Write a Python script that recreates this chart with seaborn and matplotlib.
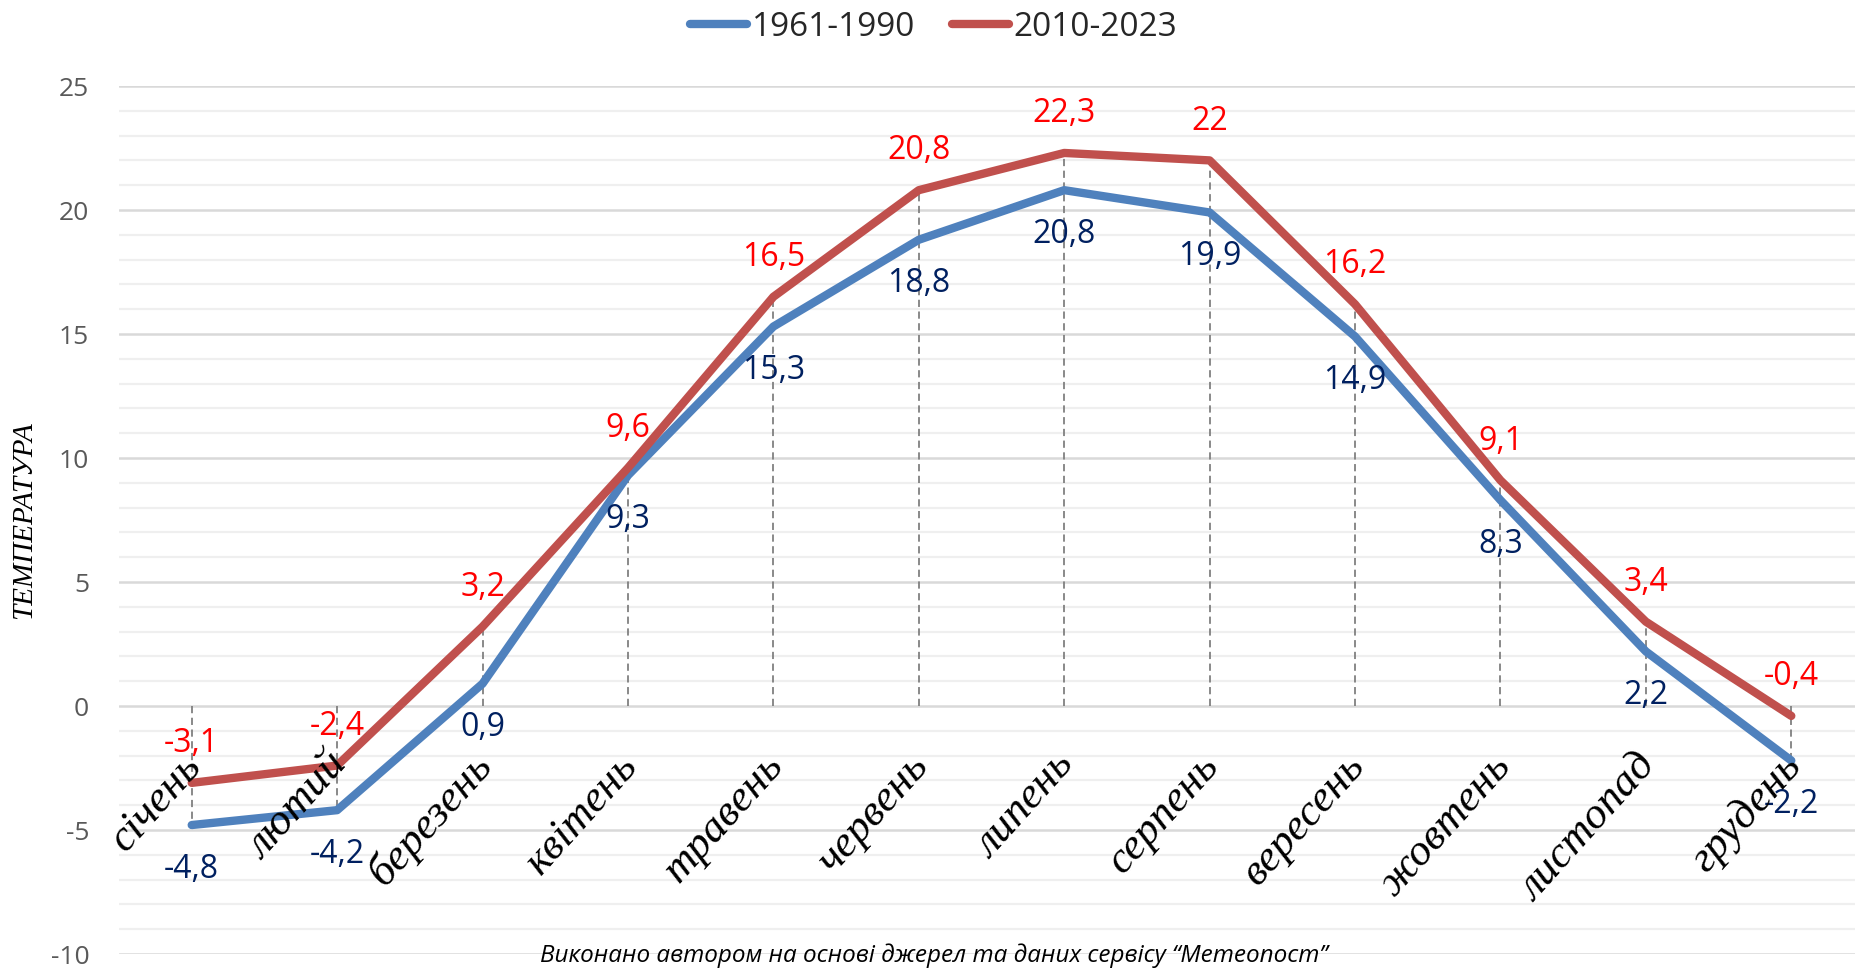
import numpy as np
import pandas as pd
import matplotlib
matplotlib.use("Agg")
import matplotlib.pyplot as plt
import seaborn as sns
from matplotlib.lines import Line2D

months = ["січень", "лютий", "березень", "квітень", "травень", "червень",
          "липень", "серпень", "вересень", "жовтень", "листопад", "грудень"]
series_names = ["1961-1990", "2010-2023"]
temps_1961_1990 = [-4.8, -4.2, 0.9, 9.3, 15.3, 18.8, 20.8, 19.9, 14.9, 8.3, 2.2, -2.2]
temps_2010_2023 = [-3.1, -2.4, 3.2, 9.6, 16.5, 20.8, 22.3, 22.0, 16.2, 9.1, 3.4, -0.4]
y_ticks = [-10, -5, 0, 5, 10, 15, 20, 25]
y_label = "ТЕМПЕРАТУРА"
caption = "Виконано автором на основі джерел та даних сервісу \u201cМетеопост\u201d"

line_colors = {"1961-1990": "#4F81BD", "2010-2023": "#C0504D"}
label_colors = {"1961-1990": "#002060", "2010-2023": "#FF0000"}

sns.set_theme(style="white")
plt.rcParams["font.family"] = ["Open Sans", "DejaVu Sans"]

idx = np.arange(len(months))
df = pd.DataFrame({
    "idx": np.concatenate([idx, idx]),
    "temp": temps_1961_1990 + temps_2010_2023,
    "period": [series_names[0]] * len(months) + [series_names[1]] * len(months),
})

W, H = 1855, 970
fig = plt.figure(figsize=(W / 100, H / 100), dpi=100)
left_px, right_px, top_px, bottom_px = 119, 1864, 87, 955
ax = fig.add_axes([left_px / W, (H - bottom_px) / H,
                   (right_px - left_px) / W, (bottom_px - top_px) / H])

# grid
ax.set_ylim(-10, 25)
ax.set_xlim(-0.5, len(months) - 0.5)
ax.set_yticks(y_ticks)
ax.set_yticks(np.arange(-10, 26, 1), minor=True)
ax.grid(which="minor", axis="y", color="#efefef", lw=1.6, zorder=0)
ax.grid(which="major", axis="y", color="#d9d9d9", lw=1.8, zorder=0)
ax.grid(False, axis="x")
ax.set_axisbelow(True)
for s in ax.spines.values():
    s.set_visible(False)

# drop lines
for i in idx:
    vals = [temps_1961_1990[i], temps_2010_2023[i]]
    hi = max(vals) if max(vals) > 0 else min(vals)
    ax.vlines(i, 0, hi, colors="#808080", linestyles=(0, (4, 2.5)), lw=1.3, zorder=1)

sns.lineplot(data=df, x="idx", y="temp", hue="period", palette=line_colors,
             lw=6, sort=False, legend=False, ax=ax, zorder=3,
             solid_capstyle="round", solid_joinstyle="round")

def fmt(v):
    s = f"{v:g}"
    return s.replace(".", ",")

for i in idx:
    ax.annotate(fmt(temps_1961_1990[i]), (i, temps_1961_1990[i]), xytext=(0, -31),
                textcoords="offset points", ha="center", va="center",
                fontsize=23, color=label_colors["1961-1990"], zorder=4)
    ax.annotate(fmt(temps_2010_2023[i]), (i, temps_2010_2023[i]), xytext=(0, 29),
                textcoords="offset points", ha="center", va="center",
                fontsize=23, color=label_colors["2010-2023"], zorder=4)

# category labels
ax.set_xticks(idx)
ax.set_xticklabels([])
ax.tick_params(axis="x", length=0)
for i, m in enumerate(months):
    ax.annotate(m, (i, 0), xytext=(8, -43), textcoords="offset points",
                rotation=48, rotation_mode="anchor", ha="right", va="baseline",
                fontsize=32, fontstyle="italic", family="Liberation Serif",
                color="black", zorder=5)

ax.tick_params(axis="y", length=0, pad=21.5, labelsize=19, labelcolor="#595959")
ax.set_yticklabels([str(t) for t in y_ticks])
ax.set_xlabel("")
ax.set_ylabel("")
fig.text(24 / W, 1 - 520 / H, y_label, rotation=90, ha="center", va="center",
         fontsize=21, fontstyle="italic", family="Liberation Serif", color="black")

fig.text(934 / W, 1 - 956 / H, caption, ha="center", va="center",
         fontsize=17.5, fontstyle="italic", color="black")

handles = [Line2D([], [], color=line_colors[n], lw=6, solid_capstyle="round") for n in series_names]
fig.legend(handles, series_names, loc="center", bbox_to_anchor=(934 / W, 1 - 28 / H),
           ncol=2, frameon=False, fontsize=24, handlelength=1.7, handletextpad=0.15,
           columnspacing=1.1, borderaxespad=0, borderpad=0)

fig.savefig("out.png", dpi=100)
